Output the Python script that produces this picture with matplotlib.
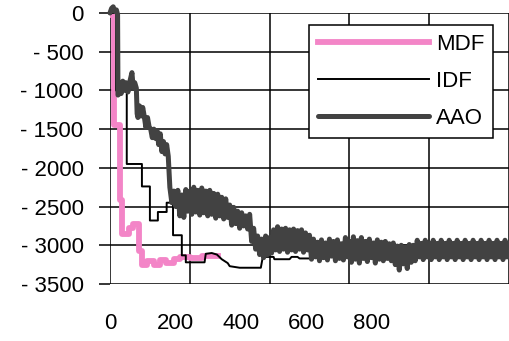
import matplotlib
matplotlib.use("Agg")
import matplotlib.pyplot as plt

plt.rcParams['font.family'] = ['Liberation Sans', 'DejaVu Sans']

# series (x = iteration, y = objective)
mdf_x = [0, 10, 10, 25, 25, 30, 30, 48, 48, 58, 58, 72, 72, 80, 80, 92, 92, 110, 110,
         125, 125, 140, 140, 160, 160, 175, 175, 200, 200, 230, 230, 270]
mdf_y = [-20, -20, -1450, -1450, -2420, -2420, -2850, -2850, -2780, -2780, -2720, -2720,
         -3080, -3080, -3260, -3260, -3200, -3200, -3250, -3250, -3190, -3190, -3230, -3230,
         -3180, -3180, -3150, -3150, -3170, -3170, -3140, -3140]

idf_x = [0, 15, 15, 42, 42, 80, 80, 100, 100, 120, 120, 142, 142, 158, 158, 180, 180, 190,
         190, 237, 240, 255, 268, 280, 295, 300, 325, 378, 383, 410, 412, 450, 455, 470,
         475, 500, 510, 600, 700, 712, 750, 755, 1000]
idf_y = [0, 0, -1000, -1000, -1950, -1950, -2240, -2240, -2680, -2680, -2570, -2570, -2450,
         -2450, -2870, -2870, -3130, -3130, -3220, -3220, -3110, -3100, -3120, -3180, -3230,
         -3270, -3290, -3290, -3150, -3150, -3180, -3180, -3150, -3150, -3170, -3170, -3100,
         -3080, -3050, -3000, -3000, -3050, -3050]

# AAO: first part read point by point, then one sample every 5 iterations
aao_x = [0, 4, 8, 12, 16, 19, 20, 22, 25, 28, 32, 36, 40, 45, 50, 55, 58, 62, 66, 68, 70,
         74, 78, 82, 86, 90, 94, 98, 102, 106, 110, 114, 118, 122, 126, 130, 134, 138, 142,
         146] + list(range(150, 1001, 5))
aao_y = [0, 60, 80, 20, 40, -20, -1060, -1050, -900, -1040, -880, -1000, -900, -1020, -880,
         -770, -960, -900, -970, -1300, -1350, -1200, -1330, -1220, -1340, -1480, -1350,
         -1470, -1500, -1610, -1500, -1620, -1520, -1700, -1560, -1790, -1660, -1820, -1700,
         -1850,
         -2250, -2450, -2300, -2500,  -2290, -2620, -2350, -2640,
         -2280, -2560, -2300, -2600,  -2250, -2570, -2290, -2610,
         -2260, -2580, -2300, -2620,  -2290, -2600, -2330, -2650,
         -2340, -2620, -2380, -2660,  -2400, -2640, -2480, -2740,
         -2510, -2720, -2560, -2780,  -2580, -2750, -2620, -2790,
         -2600, -2950, -2780, -3050,  -2880, -3120, -2920, -3160,
         -2880, -3120, -2900, -3100,  -2800, -3060, -2760, -3080,
         -2790, -3050, -2780, -3090,  -2800, -3060, -2790, -3080,
         -2810, -3050, -2800, -3090,  -2840, -3060, -2870, -3180,
         -2920, -3150, -2960, -3200,  -2930, -3160, -2970, -3190,
         -2920, -3140, -2950, -3200,  -2930, -3170, -2980, -3190,
         -2900, -3150, -2950, -3220,  -2890, -3180, -2940, -3230,
         -2900, -3170, -2950, -3210,  -2920, -3160, -2970, -3230,
         -2930, -3180, -2960, -3200,  -2950, -3170, -2980, -3200,
         -2970, -3250, -3010, -3320,  -3000, -3240, -3020, -3300,
         -2990, -3220, -3000, -3200,  -2935, -3150, -2975, -3185,
         -2935, -3150, -2975, -3185,  -2935, -3150, -2975, -3185,
         -2935, -3150, -2975, -3185,  -2935, -3150, -2975, -3185,
         -2935, -3150, -2975, -3185,  -2935, -3150, -2975, -3185,
         -2935, -3150, -2975, -3185,  -2935, -3150, -2975, -3185,
         -2935, -3150, -2975, -3185,  -2935, -3150, -2975, -3185,
         -2935, -3150, -2975]

y_ticks = [0, -500, -1000, -1500, -2000, -2500, -3000, -3500]
y_tick_labels = ["0", "- 500", "- 1000", "- 1500", "- 2000", "- 2500", "- 3000", "- 3500"]
x_grid = [0, 200, 400, 600, 800, 1000]
x_tick_labels = ["0", "200", "400", "600", "800"]

pink = '#f385c7'
dark = '#424242'
fs = 16

fig = plt.figure(figsize=(5.1, 3.41), dpi=100)
ax = fig.add_axes([110 / 510, 1 - 284 / 341, 399 / 510, 271 / 341])

ax.plot(mdf_x, mdf_y, color=pink, lw=4.2, label='MDF', zorder=3)
ax.plot(idf_x, idf_y, color='black', lw=1.4, label='IDF', zorder=4)
ax.plot(aao_x, aao_y, color=dark, lw=3.6, label='AAO', zorder=5,
        solid_joinstyle='round', solid_capstyle='round', clip_on=False)

ax.set_xlim(0, 1000)
ax.set_ylim(-3500, 0)
for s in ax.spines.values():
    s.set_visible(False)

ax.set_yticks(y_ticks, y_tick_labels)
ax.grid(True, axis='y', color='black', lw=1.1, zorder=1)
ax.vlines(x_grid, -3500, 0, color='black', lw=1.1, zorder=1)
# the value labels sit off the gridlines, as in the original
ax.set_xticks([i * 200 * 0.82 for i in range(len(x_tick_labels))], x_tick_labels)
ax.tick_params(axis='y', length=8, width=1.1, color='black', pad=11, labelsize=fs)
ax.tick_params(axis='x', length=0, pad=21, labelsize=fs)
ax.set_axisbelow(True)

leg = ax.legend(loc='upper left', bbox_to_anchor=(309 / 510, 1 - 25 / 341),
                bbox_transform=fig.transFigure, fontsize=fs, frameon=True,
                fancybox=False, framealpha=1, edgecolor='black', borderpad=0.4,
                handlelength=5.0, handletextpad=0.3, labelspacing=0.72, borderaxespad=0)
leg.get_frame().set_linewidth(1.1)
leg.set_zorder(10)

fig.savefig('out.png', dpi=100)
